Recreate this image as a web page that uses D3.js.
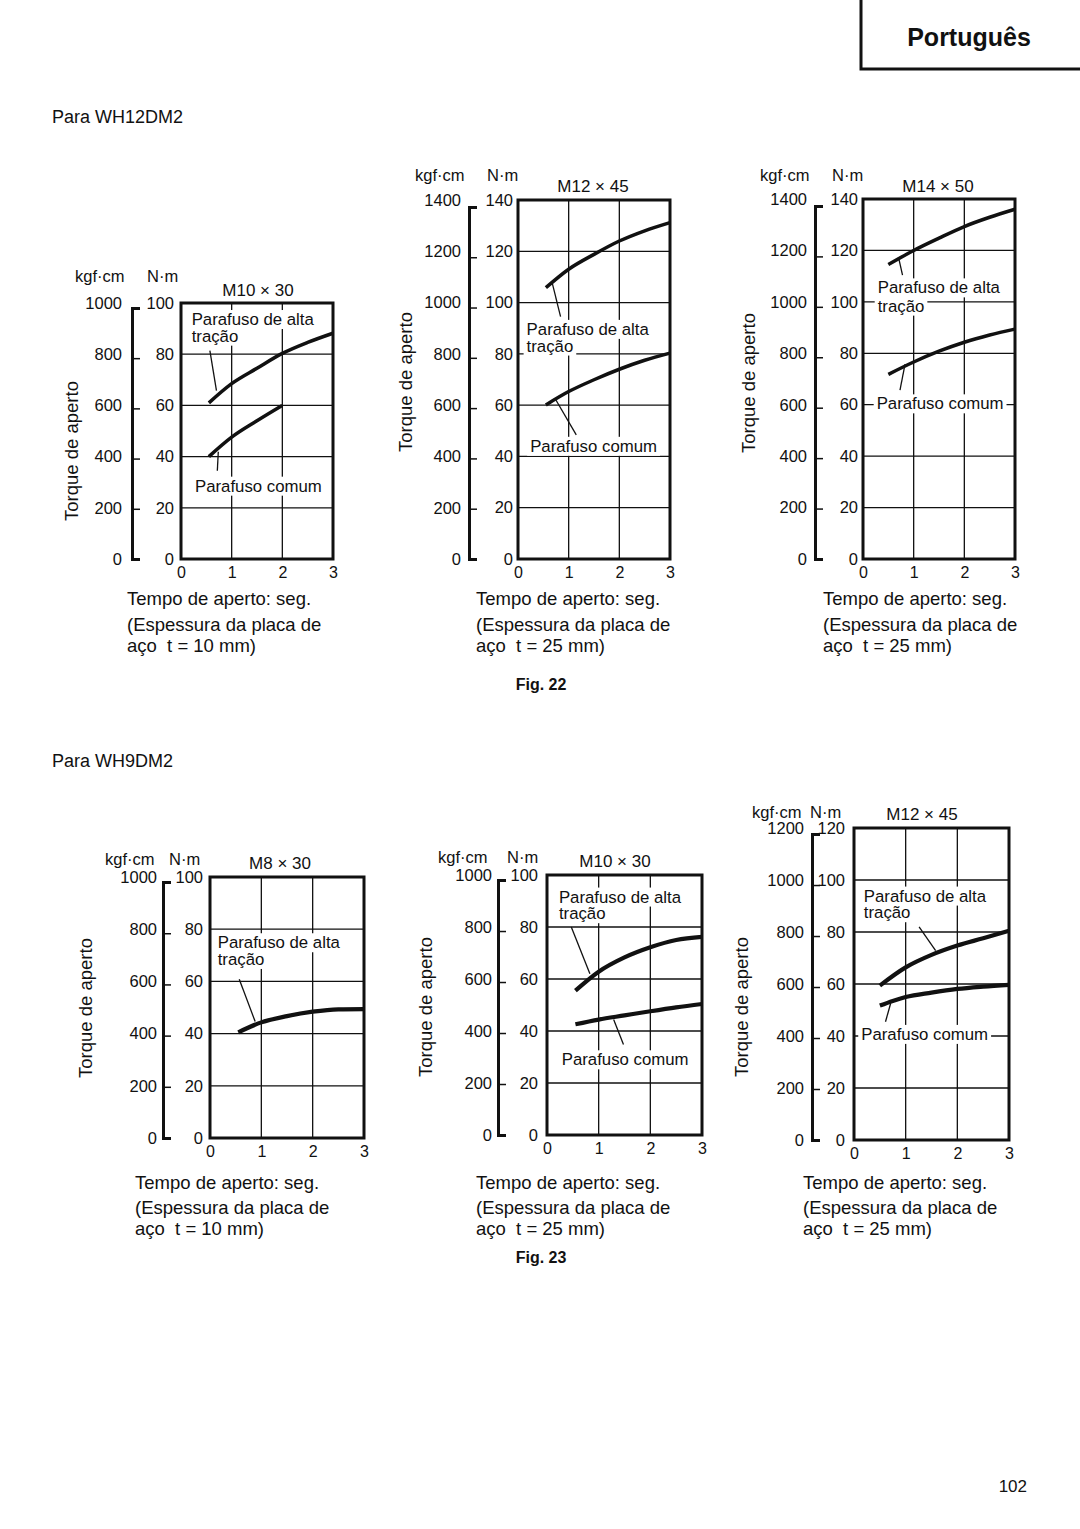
<!DOCTYPE html>
<html><head><meta charset="utf-8">
<script src="https://cdn.jsdelivr.net/npm/d3@7"></script>
<style>
html,body{margin:0;padding:0;background:#fff;}
svg{display:block;font-family:"Liberation Sans",Arial,Helvetica,sans-serif;}
text{fill:#111;}
</style></head><body>
<svg id="page" width="1080" height="1529"></svg>
<script>
// ================= DATA =================
const KGF_TO_NM = 0.0980665;           // 1 kgf·cm = 0.0980665 N·m
const timeTicks = [0, 1, 2, 3];         // Tempo de aperto (s)
const nmTicks100 = [0, 20, 40, 60, 80, 100];
const nmTicks120 = [0, 20, 40, 60, 80, 100, 120];
const nmTicks140 = [0, 20, 40, 60, 80, 100, 120, 140];
const kgfTicks1000 = [0, 200, 400, 600, 800, 1000];
const kgfTicks1200 = [0, 200, 400, 600, 800, 1000, 1200];
const kgfTicks1400 = [0, 200, 400, 600, 800, 1000, 1200, 1400];

const sectionTitles = ["Para WH12DM2", "Para WH9DM2"];
const figLabels = ["Fig. 22", "Fig. 23"];
const boltTitles = ["M10 × 30", "M12 × 45", "M14 × 50", "M8 × 30", "M10 × 30", "M12 × 45"];
const plateThickness = [10, 25, 25, 10, 25, 25]; // mm
const seriesNames = ["Parafuso de alta|tração", "Parafuso comum"];

// WH12DM2 – M10 × 30
const p1HighX = [0.55, 1, 1.5, 2, 2.5, 3];
const p1HighY = [61, 68.5, 74.5, 80.3, 84.6, 88.2];
const p1CommonX = [0.55, 1, 1.5, 2];
const p1CommonY = [40, 47.6, 54, 60];
// WH12DM2 – M12 × 45
const p2HighX = [0.55, 1, 1.5, 2, 2.5, 3];
const p2HighY = [105.8, 113, 118.8, 124, 128, 131.2];
const p2CommonX = [0.55, 1, 1.5, 2, 2.5, 3];
const p2CommonY = [60.1, 65.3, 69.9, 74, 77.5, 80.3];
// WH12DM2 – M14 × 50
const p3HighX = [0.5, 1, 1.5, 2, 2.5, 3];
const p3HighY = [114.5, 120, 124.8, 129.3, 132.9, 136];
const p3CommonX = [0.5, 1, 1.5, 2, 2.5, 3];
const p3CommonY = [71.8, 76.6, 80.8, 84.3, 87.1, 89.4];
// WH9DM2 – M8 × 30
const p4HighX = [0.55, 1, 1.5, 2, 2.5, 3];
const p4HighY = [40.5, 44.3, 46.7, 48.4, 49.3, 49.4];
// WH9DM2 – M10 × 30
const p5HighX = [0.55, 1, 1.5, 2, 2.5, 3];
const p5HighY = [55.5, 62.8, 68.3, 72.2, 75, 76.2];
const p5CommonX = [0.55, 1, 1.5, 2, 2.5, 3];
const p5CommonY = [42.6, 44.4, 46, 47.6, 49.1, 50.4];
// WH9DM2 – M12 × 45
const p6HighX = [0.5, 1, 1.5, 2, 2.5, 3];
const p6HighY = [59.4, 66.4, 71.2, 74.8, 77.6, 80.5];
const p6CommonX = [0.5, 0.75, 1, 1.5, 2, 2.5, 3];
const p6CommonY = [51.7, 53.5, 55, 56.7, 58.1, 59, 59.7];

// callout annotations in data units: at = [labelX, labelY line1, labelY line2], lead = leader line ends
const p1Notes = [{s:0, at:[0.21, 91.4, 84.9], lead:[[0.57,81.4],[0.70,65.8]]}, {s:1, at:[0.276, 26.3], lead:[[0.736,41.9],[0.717,34.5]]}];
const p2Notes = [{s:0, at:[0.17, 87.4, 80.9], lead:[[0.68,107.3],[0.84,94.5]]}, {s:1, at:[0.24, 41.8], lead:[[0.74,62.3],[1.15,48.4]]}];
const p3Notes = [{s:0, at:[0.29, 103.3, 96.2], lead:[[0.70,117.4],[0.78,110.4]]}, {s:1, at:[0.27, 58.2], lead:[[0.83,75.8],[0.73,65.7]]}];
const p4Notes = [{s:0, at:[0.15, 72.7, 66.3], lead:[[0.88,44.6],[0.57,60.8]]}];
const p5Notes = [{s:0, at:[0.23, 89.4, 83.0], lead:[[0.83,62],[0.47,80]]}, {s:1, at:[0.285, 26.8], lead:[[1.29,44.4],[1.48,34.8]]}];
const p6Notes = [{s:0, at:[0.19, 91.7, 85.3], lead:[[1.58,72.8],[1.26,82.0]]}, {s:1, at:[0.14, 38.5], lead:[[0.71,52.6],[0.61,45.5]]}];

// ================= LAYOUT =================
const panels = [
  {title:boltTitles[0], t:plateThickness[0], nmTicks:nmTicks100, kgfTicks:kgfTicks1000,
   series:[[p1HighX,p1HighY],[p1CommonX,p1CommonY]], notes:p1Notes,
   L:181,R:333,T:303,B:559, bar:132, kPad:10, nPad:7, kgfX:75, nmX:147, headY:282, titleX:258, titleY:296,
   torqueX:71, torqueY:451, capX:127, capY:[605,631,652], lw:3.5},
  {title:boltTitles[1], t:plateThickness[1], nmTicks:nmTicks140, kgfTicks:kgfTicks1400,
   series:[[p2HighX,p2HighY],[p2CommonX,p2CommonY]], notes:p2Notes,
   L:518,R:670,T:200,B:559, bar:469, kPad:8, nPad:5, kgfX:415, nmX:487, headY:181, titleX:593, titleY:192,
   torqueX:405, torqueY:382, capX:476, capY:[605,631,652], lw:3.5},
  {title:boltTitles[2], t:plateThickness[2], nmTicks:nmTicks140, kgfTicks:kgfTicks1400,
   series:[[p3HighX,p3HighY],[p3CommonX,p3CommonY]], notes:p3Notes,
   L:863,R:1015,T:199,B:559, bar:815, kPad:8, nPad:5, kgfX:760, nmX:832, headY:181, titleX:938, titleY:192,
   torqueX:748, torqueY:383, capX:823, capY:[605,631,652], lw:3.5},
  {title:boltTitles[3], t:plateThickness[3], nmTicks:nmTicks100, kgfTicks:kgfTicks1000,
   series:[[p4HighX,p4HighY]], notes:p4Notes,
   L:210,R:364,T:877,B:1138, bar:163, kPad:6, nPad:7, kgfX:105, nmX:169, headY:865, titleX:280, titleY:869,
   torqueX:85, torqueY:1008, capX:135, capY:[1189,1214,1235], lw:4.2},
  {title:boltTitles[4], t:plateThickness[4], nmTicks:nmTicks100, kgfTicks:kgfTicks1000,
   series:[[p5HighX,p5HighY],[p5CommonX,p5CommonY]], notes:p5Notes,
   L:547,R:702,T:875,B:1135, bar:498, kPad:6, nPad:9, kgfX:438, nmX:507, headY:863, titleX:615, titleY:867,
   torqueX:425, torqueY:1007, capX:476, capY:[1189,1214,1235], lw:4.2},
  {title:boltTitles[5], t:plateThickness[5], nmTicks:nmTicks120, kgfTicks:kgfTicks1200,
   series:[[p6HighX,p6HighY],[p6CommonX,p6CommonY]], notes:p6Notes,
   L:854,R:1009,T:828,B:1140, bar:812, kPad:8, nPad:9, kgfX:752, nmX:810, headY:818, titleX:922, titleY:820,
   torqueX:741, torqueY:1007, capX:803, capY:[1189,1214,1235], lw:4.2}
];

const INK = "#111";
const svg = d3.select("#page");

// header tab
svg.append("path").attr("d","M861,0V69H1080").attr("fill","none").attr("stroke",INK).attr("stroke-width",3);
svg.append("text").attr("x",969).attr("y",46).attr("text-anchor","middle")
  .attr("font-size",25).attr("font-weight","bold").text("Português");

svg.append("text").attr("x",52).attr("y",123).attr("font-size",18).text(sectionTitles[0]);
svg.append("text").attr("x",52).attr("y",767).attr("font-size",18).text(sectionTitles[1]);
svg.append("text").attr("x",541).attr("y",690).attr("text-anchor","middle").attr("font-size",16).attr("font-weight","bold").text(figLabels[0]);
svg.append("text").attr("x",541).attr("y",1263).attr("text-anchor","middle").attr("font-size",16).attr("font-weight","bold").text(figLabels[1]);
svg.append("text").attr("x",1027).attr("y",1492).attr("text-anchor","end").attr("font-size",17).text("102");

function drawPanel(p) {
  const g = svg.append("g");
  const nmMax = d3.max(p.nmTicks);
  const kgfTop = d3.max(p.kgfTicks);
  const x = d3.scaleLinear().domain([0, 3]).range([p.L, p.R]);
  const y = d3.scaleLinear().domain([0, nmMax]).range([p.B, p.T]);
  const yK = d3.scaleLinear().domain([0, kgfTop]).range([p.B, y(kgfTop * KGF_TO_NM)]);

  // grid
  g.append("g").selectAll("line").data(p.nmTicks.filter(v => v > 0 && v < nmMax)).join("line")
    .attr("x1", p.L).attr("x2", p.R).attr("y1", d => y(d)).attr("y2", d => y(d))
    .attr("stroke", INK).attr("stroke-width", 1.3);
  g.append("g").selectAll("line").data(timeTicks.filter(v => v > 0 && v < 3)).join("line")
    .attr("y1", p.T).attr("y2", p.B).attr("x1", d => x(d)).attr("x2", d => x(d))
    .attr("stroke", INK).attr("stroke-width", 1.3);

  // callout labels with white knockout
  const noteG = g.append("g");
  p.notes.forEach(n => {
    const lines = seriesNames[n.s].split("|");
    lines.forEach((ln, i) => {
      const t = noteG.append("text").attr("x", x(n.at[0])).attr("y", y(n.at[i + 1]))
        .attr("font-size", 16.8).text(ln);
      const bb = t.node().getBBox();
      noteG.insert("rect", "text").attr("x", bb.x - 3).attr("y", bb.y).attr("width", bb.width + 6)
        .attr("height", bb.height).attr("fill", "#fff");
    });
    noteG.append("line").attr("x1", x(n.lead[0][0])).attr("y1", y(n.lead[0][1]))
      .attr("x2", x(n.lead[1][0])).attr("y2", y(n.lead[1][1]))
      .attr("stroke", INK).attr("stroke-width", 1.3);
  });

  // curves
  const line = d3.line().x(d => x(d[0])).y(d => y(d[1])).curve(d3.curveMonotoneX);
  p.series.forEach(([xs, ys]) => {
    g.append("path").datum(xs.map((v, i) => [v, ys[i]])).attr("d", line)
      .attr("fill", "none").attr("stroke", INK).attr("stroke-width", p.lw).attr("stroke-linecap", "butt");
  });

  // frame
  g.append("rect").attr("x", p.L).attr("y", p.T).attr("width", p.R - p.L).attr("height", p.B - p.T)
    .attr("fill", "none").attr("stroke", INK).attr("stroke-width", 3);

  // N·m axis
  const nAx = g.append("g").attr("transform", `translate(${p.L},0)`)
    .call(d3.axisLeft(y).tickValues(p.nmTicks).tickSize(0).tickPadding(p.nPad));
  nAx.select(".domain").remove();
  nAx.selectAll("text").attr("font-size", 16.5).attr("font-family", null).attr("fill", INK);

  // kgf·cm axis: tick marks at true conversion, labels level with the N·m scale rows
  const kAx = g.append("g").attr("transform", `translate(${p.bar},0)`)
    .call(d3.axisLeft(yK).tickValues(p.kgfTicks).tickSizeInner(-8).tickSizeOuter(-8)
      .tickPadding(p.kPad).tickFormat(d3.format("d")));
  kAx.select(".domain").attr("stroke", INK).attr("stroke-width", 3);
  kAx.selectAll(".tick line").attr("stroke", INK).attr("stroke-width", 1.5);
  kAx.selectAll(".tick text").attr("font-size", 16.5).attr("font-family", null).attr("fill", INK)
    .attr("y", d => y(d / 10) - yK(d));

  // time axis
  const xAx = g.append("g").attr("transform", `translate(0,${p.B})`)
    .call(d3.axisBottom(x).tickValues(timeTicks).tickSize(0).tickPadding(8).tickFormat(d3.format("d")));
  xAx.select(".domain").remove();
  xAx.selectAll("text").attr("font-size", 16).attr("font-family", null).attr("fill", INK);

  // headers
  g.append("text").attr("x", p.kgfX).attr("y", p.headY).attr("font-size", 16.5).text("kgf·cm");
  g.append("text").attr("x", p.nmX).attr("y", p.headY).attr("font-size", 16.5).text("N·m");
  g.append("text").attr("x", p.titleX).attr("y", p.titleY).attr("text-anchor", "middle").attr("font-size", 17).text(p.title);
  g.append("text").attr("transform", `translate(${p.torqueX},${p.torqueY}) rotate(-90)`)
    .attr("text-anchor", "middle").attr("dominant-baseline", "central").attr("font-size", 18.5).text("Torque de aperto");

  // captions
  const caps = ["Tempo de aperto: seg.", "(Espessura da placa de", `aço  t = ${p.t} mm)`];
  caps.forEach((c, i) => {
    g.append("text").attr("x", p.capX).attr("y", p.capY[i]).attr("font-size", 18.5)
      .style("white-space", "pre").text(c);
  });
}

panels.forEach(drawPanel);
</script>
</body></html>
